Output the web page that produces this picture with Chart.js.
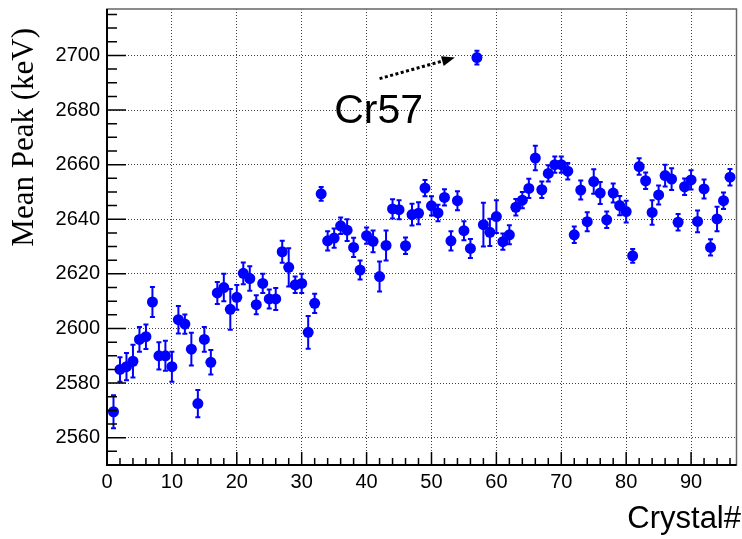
<!DOCTYPE html>
<html>
<head>
<meta charset="utf-8">
<script src="https://cdn.jsdelivr.net/npm/chart.js@4"></script>
<style>
  html, body { margin: 0; padding: 0; background: #fff; }
  canvas { display: block; }
</style>
</head>
<body>
<canvas id="chart" width="742" height="539"></canvas>
<script>
// crystal number -> mean peak position (keV) with its error
const crystal = [];
for (let i = 1; i <= 96; i++) crystal.push(i);

const meanPeak = [
  2569.5, 2585, 2586, 2588, 2596, 2597, 2609.7, 2590, 2590, 2586,
  2603.2, 2601.6, 2592.4, 2572.5, 2596, 2587.6, 2613, 2615, 2607, 2611.4,
  2620.2, 2618.3, 2608.7, 2616.5, 2610.8, 2610.8, 2628.1, 2622.4, 2616, 2616.5,
  2598.6, 2609.2, 2649.3, 2632.1, 2633.1, 2637.6, 2636, 2629.7, 2621.4, 2634,
  2631.9, 2619, 2630.4, 2643.8, 2643.5, 2630.3, 2641.7, 2642.2, 2651.4, 2644.9,
  2642.3, 2648, 2632.1, 2646.8, 2635.8, 2629.3, 2699.2, 2638, 2635.2, 2641,
  2631.8, 2634.3, 2644.4, 2647, 2651.3, 2662.4, 2650.8, 2656.8, 2660, 2660,
  2657.6, 2634.3, 2650.7, 2639.1, 2653.8, 2649.6, 2639.8, 2649.6, 2645, 2642.8,
  2626.6, 2659.3, 2654.1, 2642.5, 2648.9, 2656, 2654.7, 2638.9, 2651.9, 2654.4,
  2639.2, 2651.1, 2629.7, 2640.1, 2646.8, 2655.4
];

const meanPeakErr = [
  6, 4.5, 5, 6, 4.5, 4.5, 5.5, 5, 5.5, 5.5,
  5, 3.5, 6, 5, 4.5, 4.5, 4, 5, 7.5, 4.5,
  4, 4.5, 3.5, 3.5, 3.5, 4, 4, 7, 3, 3.5,
  6, 3.5, 2.5, 3.5, 3.5, 3, 4, 3.5, 3.5, 3,
  4, 5.5, 5.5, 3.5, 3.5, 3, 4, 4, 3, 3.5,
  3, 3, 3.5, 3.5, 3.5, 3.5, 2.5, 8, 5, 6,
  3, 3.5, 3, 3, 3.5, 4.5, 3, 3, 3, 3,
  3, 3, 3.5, 3.5, 4.5, 4, 3, 3.5, 3.5, 4,
  2.5, 3, 3, 4.5, 3.5, 4, 4, 3, 3, 3.5,
  4, 3.5, 3, 4.5, 3, 3
];

const xTicks = [0, 10, 20, 30, 40, 50, 60, 70, 80, 90];
const yTicks = [2560, 2580, 2600, 2620, 2640, 2660, 2680, 2700];

// annotation in data units
const noteText = "Cr57";
const noteAt = { x: 35, y: 2675.4 };
const arrowFrom = { x: 42, y: 2691.5 };
const arrowTo = { x: 53.6, y: 2699.2 };

const points = crystal.map((c, i) => ({ x: c, y: meanPeak[i] }));

const rootStyle = {
  id: "rootStyle",
  beforeDatasetsDraw(chart) {
    const ctx = chart.ctx;
    const xs = chart.scales.x, ys = chart.scales.y;
    ctx.save();
    ctx.strokeStyle = "#0000ff";
    ctx.lineWidth = 2;
    crystal.forEach((c, i) => {
      const px = xs.getPixelForValue(c);
      const top = ys.getPixelForValue(meanPeak[i] + meanPeakErr[i]);
      const bot = ys.getPixelForValue(meanPeak[i] - meanPeakErr[i]);
      ctx.beginPath();
      ctx.moveTo(px, top); ctx.lineTo(px, bot);
      ctx.moveTo(px - 2.5, top); ctx.lineTo(px + 2.5, top);
      ctx.moveTo(px - 2.5, bot); ctx.lineTo(px + 2.5, bot);
      ctx.stroke();
    });
    ctx.restore();
  },
  afterDraw(chart) {
    const ctx = chart.ctx;
    const a = chart.chartArea;
    const xs = chart.scales.x, ys = chart.scales.y;
    ctx.save();

    // frame
    ctx.strokeStyle = "#666";
    ctx.lineWidth = 1.5;
    ctx.strokeRect(a.left, a.top, a.right - a.left, a.bottom - a.top);
    ctx.strokeStyle = "#000";
    ctx.lineWidth = 2;
    ctx.beginPath();
    ctx.moveTo(a.left, a.top); ctx.lineTo(a.left, a.bottom); ctx.lineTo(a.right, a.bottom);
    ctx.stroke();

    // ticks inside the frame
    ctx.lineWidth = 1.5;
    ctx.beginPath();
    for (let v = Math.ceil(xs.min / 2) * 2; v <= xs.max; v += 2) {
      const px = xs.getPixelForValue(v);
      const len = v % 10 === 0 ? 13 : 7;
      ctx.moveTo(px, a.bottom); ctx.lineTo(px, a.bottom - len);
    }
    for (let v = Math.ceil(ys.min / 5) * 5; v <= ys.max; v += 5) {
      const py = ys.getPixelForValue(v);
      const len = v % 20 === 0 ? 19 : 10;
      ctx.moveTo(a.left, py); ctx.lineTo(a.left + len, py);
    }
    ctx.stroke();

    // axis titles
    ctx.fillStyle = "#000";
    ctx.font = '31px "Liberation Sans", Arial, sans-serif';
    ctx.textAlign = "right";
    ctx.textBaseline = "alphabetic";
    ctx.fillText("Crystal#", 741, 528);

    ctx.save();
    ctx.translate(33, 28);
    ctx.rotate(-Math.PI / 2);
    ctx.font = '31px "Liberation Serif", "DejaVu Serif", serif';
    ctx.textAlign = "right";
    ctx.fillText("Mean Peak (keV)", 0, 0);
    ctx.restore();

    // annotation
    ctx.font = '41px "Liberation Sans", Arial, sans-serif';
    ctx.textAlign = "left";
    ctx.fillText(noteText, xs.getPixelForValue(noteAt.x), ys.getPixelForValue(noteAt.y));

    const x1 = xs.getPixelForValue(arrowFrom.x), y1 = ys.getPixelForValue(arrowFrom.y);
    const x2 = xs.getPixelForValue(arrowTo.x), y2 = ys.getPixelForValue(arrowTo.y);
    const ang = Math.atan2(y2 - y1, x2 - x1);
    const head = 13;
    const bx = x2 - head * Math.cos(ang), by = y2 - head * Math.sin(ang);
    ctx.strokeStyle = "#000";
    ctx.lineWidth = 3;
    ctx.setLineDash([3, 2.5]);
    ctx.beginPath();
    ctx.moveTo(x1, y1); ctx.lineTo(bx, by);
    ctx.stroke();
    ctx.setLineDash([]);
    ctx.beginPath();
    ctx.moveTo(x2, y2);
    ctx.lineTo(bx + 5 * Math.sin(ang), by - 5 * Math.cos(ang));
    ctx.lineTo(bx - 5 * Math.sin(ang), by + 5 * Math.cos(ang));
    ctx.closePath();
    ctx.fill();

    ctx.restore();
  }
};

new Chart(document.getElementById("chart"), {
  type: "scatter",
  data: {
    datasets: [{
      data: points,
      backgroundColor: "#0000ff",
      borderWidth: 0,
      pointRadius: 5.5,
      pointHoverRadius: 5.5
    }]
  },
  options: {
    responsive: false,
    animation: false,
    events: [],
    layout: { padding: { left: 0, top: 9, right: 1, bottom: 0 } },
    plugins: { legend: { display: false }, tooltip: { enabled: false } },
    scales: {
      x: {
        type: "linear",
        min: 0,
        max: 97,
        afterFit: s => { s.height = 74; s.paddingLeft = 0; s.paddingRight = 0; },
        afterBuildTicks: s => { s.ticks = xTicks.map(v => ({ value: v })); },
        grid: { color: "rgba(0,0,0,0.75)", lineWidth: 1, drawTicks: false },
        border: { display: false, dash: [1, 2] },
        ticks: {
          padding: 5,
          color: "#000",
          maxRotation: 0,
          callback: v => String(v),
          font: { family: '"Liberation Sans", Arial, sans-serif', size: 20 }
        }
      },
      y: {
        type: "linear",
        min: 2550,
        max: 2717,
        afterFit: s => { s.width = 107; s.paddingTop = 0; s.paddingBottom = 0; },
        afterBuildTicks: s => { s.ticks = yTicks.map(v => ({ value: v })); },
        grid: { color: "rgba(0,0,0,0.75)", lineWidth: 1, drawTicks: false },
        border: { display: false, dash: [1, 2] },
        ticks: {
          padding: 7,
          color: "#000",
          callback: v => String(v),
          font: { family: '"Liberation Sans", Arial, sans-serif', size: 20 }
        }
      }
    }
  },
  plugins: [rootStyle]
});
</script>
</body>
</html>
